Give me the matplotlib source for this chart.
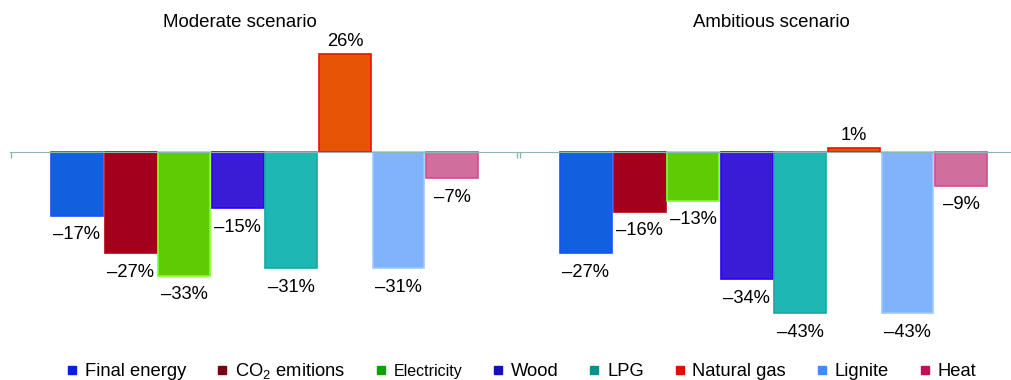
import matplotlib.pyplot as plt
from matplotlib.lines import Line2D

plt.rcParams['font.family'] = ['Liberation Sans', 'DejaVu Sans']
plt.rcParams['mathtext.fontset'] = 'custom'
plt.rcParams['mathtext.rm'] = 'Liberation Sans'

categories = ['Final energy', 'CO$_\\mathrm{2}$ emitions', 'Electricity', 'Wood',
              'LPG', 'Natural gas', 'Lignite', 'Heat']
moderate = [-17, -27, -33, -15, -31, 26, -31, -7]
ambitious = [-27, -16, -13, -34, -43, 1, -43, -9]
scenarios = ['Moderate scenario', 'Ambitious scenario']

bar_colors = ['#1160dd', '#a2001c', '#5fcb04', '#3a1cd6', '#1fb7b3',
              '#e85406', '#80b3fb', '#d06f9e']
edge_colors = ['#1a4fff', '#b00010', '#7cff30', '#2a00ff', '#18a8a4',
               '#f01000', '#9cc8ff', '#d84c8c']
legend_colors = ['#0a1ee0', '#7a0010', '#10a000', '#1010c0', '#10908c',
                 '#e01000', '#3c8cff', '#c0105a']

W, H = 1012, 380
fig = plt.figure(figsize=(W / 100, H / 100), dpi=100)

panels = [(moderate, 10, 3.04), (ambitious, 519, 3.46)]
for (values, left_px, title_x), title in zip(panels, scenarios):
    ax = fig.add_axes([left_px / W, 0, 508 / W, 1])
    ax.set_xlim(-1.25, 8.23)
    ax.set_ylim(-60.8, 40.5)
    ax.patch.set_visible(False)
    x = range(len(values))
    bars = ax.bar(x, values, width=0.97, color=bar_colors,
                  edgecolor=edge_colors, linewidth=1.2, zorder=2)
    for b, v in zip(bars, values):
        txt = f'{v}%'.replace('-', '\u2013')
        if v < 0:
            ax.annotate(txt, (b.get_x() + b.get_width() / 2, v), xytext=(0, -7.5),
                        textcoords='offset points', ha='center', va='top', fontsize=13.2)
        else:
            ax.annotate(txt, (b.get_x() + b.get_width() / 2, v), xytext=(0, 3),
                        textcoords='offset points', ha='center', va='bottom', fontsize=13.2)
    ax.text(title_x, 34.4, title, ha='center', va='center', fontsize=13.4)

    for s in ['top', 'right', 'left']:
        ax.spines[s].set_visible(False)
    ax.spines['bottom'].set_position(('data', 0))
    ax.spines['bottom'].set_color('#8fb4b4')
    ax.spines['bottom'].set_zorder(3)
    ax.set_yticks([])
    ax.set_xticks([-1.24, 8.22])
    ax.set_xticklabels([])
    ax.tick_params(axis='x', length=4, width=1, color='#8fb4b4', direction='out')

handles = [Line2D([], [], marker='s', linestyle='none', markersize=6,
                  markerfacecolor=c, markeredgecolor=c) for c in legend_colors]
leg = fig.legend(handles, categories, loc='lower center', bbox_to_anchor=(0.515, -0.047),
                 ncol=8, frameon=False, fontsize=13.2, handlelength=0.6,
                 handletextpad=0.4, columnspacing=1.65)
leg.get_texts()[2].set_fontsize(11.5)

fig.savefig('out.png', dpi=100)
